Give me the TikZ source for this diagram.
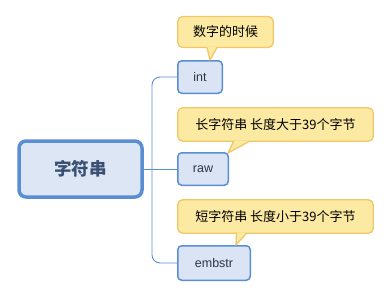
\documentclass[tikz,border=0pt]{standalone}
\usepackage{fontspec}
\setmainfont{Liberation Sans}
\newfontfamily\cjk{Noto Sans CJK SC}
\usepackage{xcolor}
\usepackage{tikz}
\usetikzlibrary{calc}

\definecolor{rootfill}{HTML}{DCE6F4}
\definecolor{mapblue}{HTML}{5A8ED3}
\definecolor{leaffill}{HTML}{DAE4F5}
\definecolor{notefill}{HTML}{FCE9A2}
\definecolor{noteline}{HTML}{F0C766}
\definecolor{roottext}{HTML}{3A5072}
\definecolor{leaftext}{HTML}{2E3440}

\tikzset{
  rootbox/.style={draw=mapblue,fill=rootfill,line width=3.5pt,rounded corners=7pt,
    minimum width=123pt,minimum height=56pt,inner sep=0pt,text=roottext,
    font=\cjk\fontsize{17.5}{20}\selectfont\bfseries},
  leafbox/.style={draw=mapblue,fill=leaffill,line width=1.5pt,rounded corners=4pt,
    minimum height=32.5pt,inner sep=0pt,text=leaftext,font=\fontsize{12.5}{15}\selectfont},
  notebox/.style={draw=noteline,fill=notefill,line width=1.3pt,rounded corners=5pt,
    minimum height=31pt,inner sep=0pt,text=black,font=\cjk\fontsize{13}{16}\selectfont},
  branch/.style={draw=mapblue,line width=0.9pt,rounded corners=8pt},
}

\begin{document}
\begin{tikzpicture}[x=1pt,y=-1pt]
  \useasboundingbox (0,0) rectangle (391,297);
  % ── Boxes ──────────────────────────────────────────
  \node[rootbox] (root) at (80.5,169) {字符串};
  \node[leafbox,minimum width=44.5pt] (int)    at (200,77)    {int};
  \node[leafbox,minimum width=50.5pt] (raw)    at (203,169)   {raw};
  \node[leafbox,minimum width=72.5pt,minimum height=34.5pt] (embstr) at (214,263) {embstr};
  \coordinate (fork) at (152,169);
  % ── Branches (root → leaves) ──────────────────────
  \draw[branch] (root.east) -- (raw.west);
  \draw[branch] (fork) |- (int.west);
  \draw[branch] (fork) |- (embstr.west);
  % ── Callouts ──────────────────────────────────────
  \node[notebox,minimum width=95.5pt] (note1) at (225.5,32)    {数字的时候};
  \node[notebox,minimum width=195.5pt,minimum height=33.5pt] (note2) at (275.5,124.5) {长字符串 长度大于39个字节};
  \node[notebox,minimum width=195.5pt,minimum height=33.5pt] (note3) at (275.5,216.5) {短字符串 长度小于39个字节};
  % tails: fill over the box edge, then the two slanted sides
  \fill[notefill] ($(note1.south)+(-18.5,-1.2)$) -- ($(int.north)+(10,0)$) -- ($(note1.south)+(-8.5,-1.2)$) -- cycle;
  \draw[noteline,line width=1.3pt,line join=round] ($(note1.south)+(-18.5,-0.65)$) -- ($(int.north)+(10,0)$) -- ($(note1.south)+(-8.5,-0.65)$);
  \fill[notefill] ($(note2.south)+(-42,-1.2)$) -- ($(raw.north east)+(-1,1)$) -- ($(note2.south)+(-26,-1.2)$) -- cycle;
  \draw[noteline,line width=1.3pt,line join=round] ($(note2.south)+(-42,-0.65)$) -- ($(raw.north east)+(-1,1)$) -- ($(note2.south)+(-26,-0.65)$);
  \fill[notefill] ($(note3.south)+(-39,-1.2)$) -- ($(embstr.north)+(22,0)$) -- ($(note3.south)+(-29,-1.2)$) -- cycle;
  \draw[noteline,line width=1.3pt,line join=round] ($(note3.south)+(-39,-0.65)$) -- ($(embstr.north)+(22,0)$) -- ($(note3.south)+(-29,-0.65)$);
\end{tikzpicture}
\end{document}
